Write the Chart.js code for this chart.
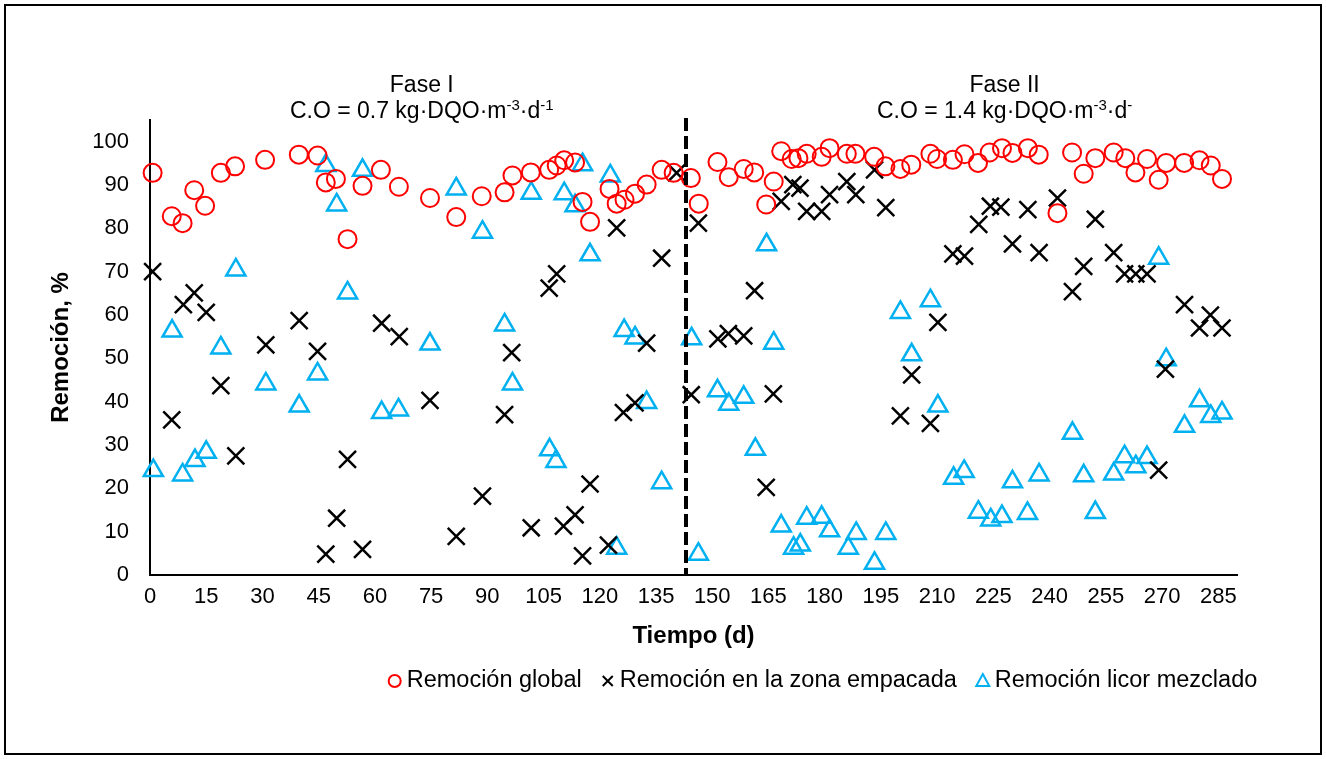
<!DOCTYPE html>
<html lang="es">
<head>
<meta charset="utf-8">
<title>Remoción de DQO</title>
<script src="https://cdn.jsdelivr.net/npm/chart.js@4.4.0/dist/chart.umd.min.js"></script>
<style>
  body { margin: 0; background: #fff; }
  canvas { display: block; }
</style>
</head>
<body>
<canvas id="grafico" width="1326" height="759"></canvas>
<script>
// dias de operacion (d) y % de remocion de cada serie
const diasGlobal = [0.7, 5.8, 8.7, 11.8, 14.7, 18.9, 22.7, 30.7, 39.7, 44.7, 46.9, 49.6, 52.7, 56.7, 61.6, 66.4,
  74.7, 81.7, 88.5, 94.6, 96.7, 101.6, 106.5, 108.5, 110.5, 113.4, 115.4, 117.4, 122.6, 124.5, 126.6, 129.4,
  132.5, 136.5, 139.7,
  144.3, 146.4, 151.4, 154.4, 158.4, 161.2, 164.4, 166.4, 168.4, 171.2, 173, 175.2, 179.2, 181.3, 185.9,
  188.2, 193.2, 196.2, 200.2, 203.1, 208.2, 210, 214.2, 217.3, 220.9, 224, 227.3, 230.1, 234.2, 237.1,
  242.1, 246, 249.1, 252.2, 257.1, 260.2, 262.9, 266, 269.1, 271.1, 275.9, 280, 283, 286];
const remGlobal = [92.8, 82.8, 81.2, 88.8, 85.2, 92.8, 94.3, 95.8, 97.0, 96.8, 90.6, 91.4, 77.5, 89.8, 93.5, 89.6,
  87.0, 82.6, 87.4, 88.3, 92.2, 92.9, 93.5, 94.5, 95.7, 95.2, 86.1, 81.5, 89.1, 85.7, 86.6, 88.0,
  90.1, 93.5, 92.8,
  91.6, 85.7, 95.3, 91.8, 93.7, 92.9, 85.5, 90.8, 97.8, 96.0, 96.2, 97.2, 96.5, 98.5, 97.2,
  97.2, 96.5, 94.3, 93.7, 94.7, 97.2, 96.0, 95.8, 97.1, 95.1, 97.5, 98.5, 97.4, 98.5, 97.0,
  83.5, 97.5, 92.6, 96.2, 97.5, 96.2, 92.9, 96.0, 91.2, 95.1, 95.1, 95.7, 94.5, 91.4];

const diasEmpacada = [0.7, 5.8, 8.9, 11.8, 15, 18.9, 22.9, 30.9, 39.8, 44.7, 46.9, 49.8, 52.7, 56.7, 61.8, 66.5,
  74.7, 81.7, 88.7, 94.6, 96.5, 101.7, 106.5, 108.5, 110.3, 113.4, 115.4, 117.4, 122.3, 124.5, 126.3, 129.4,
  132.5, 136.5, 140.5,
  144.4, 146.3, 151.5, 154.3, 158.4, 161.3, 164.4, 166.3, 168.4, 171.5, 173.4, 175.2, 179.2, 181.3, 185.9,
  188.3, 193.3, 196.3, 200.2, 203.2, 208.2, 210.2, 214.2, 217.3, 221.1, 224.2, 227, 230.1, 234.2, 237.2,
  242.1, 246.1, 249.1, 252.2, 257.1, 260, 263, 266, 269.1, 270.9, 276, 280, 282.9, 286];
const remEmpacada = [70.0, 35.8, 62.4, 65.1, 60.6, 43.7, 27.5, 53.1, 58.7, 51.6, 4.8, 13.1, 26.7, 5.9, 58.1, 55.0,
  40.3, 8.9, 18.2, 37.0, 51.3, 10.9, 66.2, 69.5, 11.3, 13.9, 4.4, 21.0, 6.9, 80.1, 37.5, 39.7,
  53.5, 73.1, 92.8,
  41.6, 81.2, 54.5, 55.7, 55.2, 65.6, 20.2, 41.8, 86.2, 90.1, 89.3, 83.9, 83.9, 87.8, 90.8,
  87.8, 93.5, 84.8, 36.7, 46.2, 35.0, 58.3, 74.1, 73.6, 80.9, 85.1, 84.9, 76.4, 84.3, 74.4,
  87.0, 65.4, 71.2, 82.1, 74.4, 69.5, 69.5, 69.5, 24.2, 47.5, 62.4, 57.0, 60.0, 57.0];

const diasLicor = [0.9, 5.9, 8.7, 12, 15, 18.9, 22.9, 30.9, 39.8, 44.7, 46.9, 49.8, 52.7, 56.7, 61.8, 66.3,
  74.7, 81.7, 88.7, 94.6, 96.7, 101.7, 106.6, 108.3, 110.5, 113.4, 115.4, 117.4, 122.8, 124.5, 126.5, 129.4,
  132.5, 136.5,
  144.5, 146.3, 151.4, 154.4, 158.4, 161.5, 164.5, 166.4, 168.4, 171.7, 173.5, 175.2, 179.2, 181.3, 186.3,
  188.4, 193.3, 196.3, 200.2, 203.2, 208.2, 210.2, 214.4, 217.2, 221, 224.3, 227.3, 230.1, 234.1, 237.2,
  246.1, 249.1, 252.2, 257.1, 260, 263, 266, 269.1, 271.1, 276, 280, 283, 286];
const remLicor = [24.1, 56.3, 23.1, 26.4, 28.3, 52.4, 70.4, 44.1, 39.0, 46.4, 94.5, 85.4, 65.1, 93.4, 37.5, 38.1,
  53.3, 89.1, 79.1, 57.7, 44.1, 88.1, 28.9, 26.2, 88.0, 85.2, 94.7, 73.9, 92.1, 6.2, 56.4, 54.7,
  39.8, 21.3,
  54.5, 4.8, 42.5, 39.4, 41.0, 29.0, 76.2, 53.5, 11.3, 6.2, 6.9, 13.1, 13.3, 10.2, 6.2,
  9.6, 2.7, 9.6, 60.6, 50.8, 63.3, 39.0, 22.3, 23.9, 14.5, 12.7, 13.5, 21.5, 14.2, 23.1,
  32.7, 22.9, 14.4, 23.3, 27.3, 25.0, 27.1, 73.1, 49.7, 34.3, 40.2, 36.6, 37.4];

const xTicks = [0, 15, 30, 45, 60, 75, 90, 105, 120, 135, 150, 165, 180, 195, 210, 225, 240, 255, 270, 285];
const yTicks = [0, 10, 20, 30, 40, 50, 60, 70, 80, 90, 100];

const finFase1 = 143; // dia del cambio de carga organica
const fases = [
  { nombre: 'Fase I', centro: 72.5, carga: [['C.O = 0.7 kg·DQO·m', false], ['-3', true], ['·d', false], ['-1', true]] },
  { nombre: 'Fase II', centro: 228, carga: [['C.O = 1.4 kg·DQO·m', false], ['-3', true], ['·d', false], ['-', true]] }
];

const rojo = '#FF0000';
const azul = '#00B0F0';
const negro = '#000000';
const fuente = '"Liberation Sans", Arial, sans-serif';

function puntos(dias, valores) {
  return dias.map((d, i) => ({ x: d, y: valores[i] }));
}

// fondo blanco y marco exterior
const fondo = {
  id: 'fondo',
  beforeDraw(chart) {
    const ctx = chart.ctx;
    ctx.save();
    ctx.fillStyle = '#fff';
    ctx.fillRect(0, 0, chart.width, chart.height);
    ctx.strokeStyle = '#000';
    ctx.lineWidth = 2;
    ctx.strokeRect(5, 5, chart.width - 10, chart.height - 10);
    ctx.restore();
  }
};

function textoCarga(ctx, partes, cx, y) {
  const normal = '23px ' + fuente;
  const sup = '15px ' + fuente;
  let ancho = 0;
  partes.forEach(([t, s]) => { ctx.font = s ? sup : normal; ancho += ctx.measureText(t).width; });
  let x = cx - ancho / 2;
  ctx.textAlign = 'left';
  ctx.textBaseline = 'alphabetic';
  partes.forEach(([t, s]) => {
    ctx.font = s ? sup : normal;
    ctx.fillText(t, x, s ? y - 8 : y);
    x += ctx.measureText(t).width;
  });
}

// linea discontinua entre fases y rotulos de cada fase
const divisionFases = {
  id: 'divisionFases',
  afterDatasetsDraw(chart) {
    const { ctx, chartArea, scales } = chart;
    const x = scales.x.getPixelForValue(finFase1);
    ctx.save();
    ctx.strokeStyle = '#000';
    ctx.lineWidth = 4;
    ctx.setLineDash([13, 5]);
    ctx.beginPath();
    ctx.moveTo(x, chartArea.top - 2);
    ctx.lineTo(x, scales.y.getPixelForValue(0));
    ctx.stroke();
    ctx.setLineDash([]);
    ctx.fillStyle = '#000';
    fases.forEach(f => {
      const cx = scales.x.getPixelForValue(f.centro);
      ctx.font = '23px ' + fuente;
      ctx.textAlign = 'center';
      ctx.textBaseline = 'alphabetic';
      ctx.fillText(f.nombre, cx, 92);
      textoCarga(ctx, f.carga, cx, 118);
    });
    ctx.restore();
  }
};

function marcador(ctx, estilo, color, x, y) {
  ctx.strokeStyle = color;
  ctx.lineWidth = 2;
  ctx.beginPath();
  if (estilo === 'circle') {
    ctx.arc(x, y, 6, 0, Math.PI * 2);
  } else if (estilo === 'crossRot') {
    ctx.moveTo(x - 5, y - 5); ctx.lineTo(x + 5, y + 5);
    ctx.moveTo(x + 5, y - 5); ctx.lineTo(x - 5, y + 5);
  } else {
    ctx.moveTo(x, y - 7); ctx.lineTo(x + 6.5, y + 5); ctx.lineTo(x - 6.5, y + 5); ctx.closePath();
  }
  ctx.stroke();
}

// leyenda dibujada a mano bajo el eje
const leyenda = {
  id: 'leyenda',
  afterDraw(chart) {
    const ctx = chart.ctx;
    const items = chart.data.datasets;
    const y = 681;
    ctx.save();
    ctx.font = '23.5px ' + fuente;
    const anchos = items.map(d => ctx.measureText(d.label).width);
    const total = 6 + anchos.reduce((a, w) => a + w + 12, 0) + 26 * (items.length - 1);
    let x = 823 - total / 2 + 6;
    items.forEach((d, i) => {
      marcador(ctx, d.pointStyle, d.borderColor, x, y);
      ctx.fillStyle = '#000';
      ctx.textAlign = 'left';
      ctx.textBaseline = 'middle';
      ctx.fillText(d.label, x + 12, y);
      x += 12 + anchos[i] + 26;
    });
    ctx.restore();
  }
};

const ctx = document.getElementById('grafico').getContext('2d');
const grafico = new Chart(ctx, {
  type: 'scatter',
  data: {
    datasets: [
      {
        label: 'Remoción global',
        data: puntos(diasGlobal, remGlobal),
        clip: false,
        pointStyle: 'circle',
        pointRadius: 9,
        borderColor: rojo,
        pointBorderColor: rojo,
        pointBorderWidth: 2,
        pointBackgroundColor: 'rgba(0,0,0,0)'
      },
      {
        label: 'Remoción en la zona empacada',
        data: puntos(diasEmpacada, remEmpacada),
        clip: false,
        pointStyle: 'crossRot',
        pointRadius: 12,
        borderColor: negro,
        pointBorderColor: negro,
        pointBorderWidth: 2.5
      },
      {
        label: 'Remoción licor mezclado',
        data: puntos(diasLicor, remLicor),
        clip: false,
        pointStyle: 'triangle',
        pointRadius: 11,
        borderColor: azul,
        pointBorderColor: azul,
        pointBorderWidth: 2.5,
        pointBackgroundColor: 'rgba(0,0,0,0)'
      }
    ]
  },
  options: {
    responsive: false,
    animation: false,
    devicePixelRatio: 1,
    events: [],
    layout: { padding: { top: 120, right: 89, bottom: 104, left: 0 } },
    plugins: {
      legend: { display: false },
      tooltip: { enabled: false }
    },
    scales: {
      x: {
        type: 'linear',
        min: 0,
        max: 290,
        afterBuildTicks: s => { s.ticks = xTicks.map(v => ({ value: v })); },
        afterFit: s => { s.height = 80; s.paddingLeft = 0; s.paddingRight = 0; },
        grid: { display: false, drawTicks: false },
        border: { display: true, color: '#000', width: 2 },
        ticks: { color: '#000', font: { family: fuente, size: 22 }, padding: 9, maxRotation: 0, autoSkip: false },
        title: { display: true, text: 'Tiempo (d)', color: '#000', font: { family: fuente, size: 24, weight: 'bold' }, padding: { top: 0, bottom: 4 } }
      },
      y: {
        min: 0,
        max: 105,
        afterBuildTicks: s => { s.ticks = yTicks.map(v => ({ value: v })); },
        afterFit: s => { s.width = 150; s.paddingTop = 0; s.paddingBottom = 0; },
        grid: { display: false, drawTicks: false },
        border: { display: true, color: '#000', width: 2 },
        ticks: { color: '#000', font: { family: fuente, size: 22 }, padding: 21 },
        title: { display: true, text: 'Remoción, %', color: '#000', font: { family: fuente, size: 24, weight: 'bold' }, padding: { top: 47, bottom: 0 } }
      }
    }
  },
  plugins: [fondo, divisionFases, leyenda]
});
</script>
</body>
</html>
